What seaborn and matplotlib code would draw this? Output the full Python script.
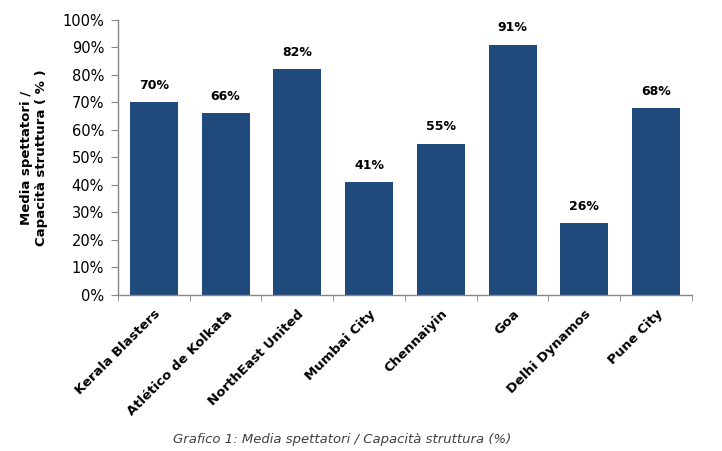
import numpy as np
import pandas as pd
import matplotlib
matplotlib.use("Agg")
import matplotlib.pyplot as plt
from matplotlib.ticker import PercentFormatter, FixedLocator
import seaborn as sns

# Data
teams = ['Kerala Blasters', 'Atlético de Kolkata', 'NorthEast United', 'Mumbai City',
         'Chennaiyin', 'Goa', 'Delhi Dynamos', 'Pune City']
occupancy = [70, 66, 82, 41, 55, 91, 26, 68]
y_ticks = list(range(0, 101, 10))

bar_color = '#214a7c'
axis_color = '#868686'

sns.set_style('white')
plt.rcParams['font.family'] = ['DejaVu Sans']

df = pd.DataFrame({'team': teams, 'pct': occupancy})

fig = plt.figure(figsize=(7.22, 4.51), dpi=100)
ax = fig.add_axes([0.1634, 0.3459, 0.795, 0.6098])

sns.barplot(data=df, x='team', y='pct', color=bar_color, width=0.67,
            saturation=1, linewidth=0, ax=ax)

# Value labels above bars
for i, v in enumerate(occupancy):
    ax.text(i, v + 3.8, f'{v}%', ha='center', va='bottom', fontsize=9,
            fontweight='bold', color='black')

ax.set_xlim(-0.5, len(teams) - 0.5)
ax.set_ylim(0, 100)
ax.yaxis.set_major_locator(FixedLocator(y_ticks))
ax.yaxis.set_major_formatter(PercentFormatter(decimals=0))
ax.tick_params(axis='y', direction='out', length=5, color=axis_color,
               labelsize=10.5, labelcolor='black', pad=5, left=True)

# x ticks: labels at centres, marks at category boundaries
ax.set_xticks(range(len(teams)))
ax.set_xticklabels(teams, rotation=45, ha='right', rotation_mode='anchor',
                   fontsize=9.5, fontweight='bold', color='black')
ax.tick_params(axis='x', which='major', length=0, pad=9)
ax.set_xticks(np.arange(-0.5, len(teams), 1), minor=True)
ax.tick_params(axis='x', which='minor', direction='out', length=4,
               color=axis_color, bottom=True)

for side in ['top', 'right']:
    ax.spines[side].set_visible(False)
for side in ['left', 'bottom']:
    ax.spines[side].set_color(axis_color)
    ax.spines[side].set_linewidth(1)

ax.set_xlabel('')
ax.set_ylabel('Media spettatori /\nCapacità struttura ( % )', fontsize=9.5,
              fontweight='bold', color='black', labelpad=10)

fig.text(0.474, 0.012, 'Grafico 1: Media spettatori / Capacità struttura (%)',
         ha='center', va='bottom', fontsize=9.5, style='italic', color='#404040')

fig.savefig('out.png', dpi=100)
